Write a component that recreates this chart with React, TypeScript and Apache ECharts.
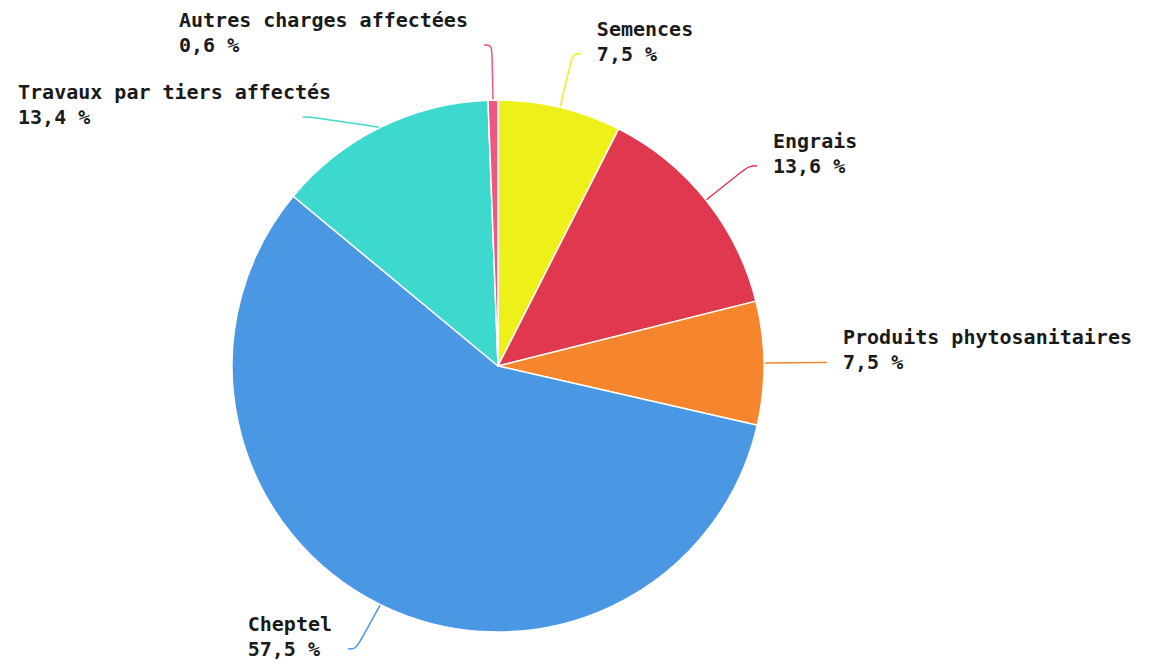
import React, { useEffect, useRef } from "react";
import * as echarts from "echarts";

const categories = [
  "Semences",
  "Engrais",
  "Produits phytosanitaires",
  "Cheptel",
  "Travaux par tiers affectés",
  "Autres charges affectées",
];
const values = [7.5, 13.6, 7.5, 57.5, 13.4, 0.6];
const colors = ["#EEF01A", "#E0394F", "#F5862E", "#4A97E3", "#3ED9CE", "#EF5680"];

const fmt = (v: number) => v.toFixed(1).replace(".", ",") + " %";

export default function App() {
  const ref = useRef<HTMLDivElement>(null);
  useEffect(() => {
    const chart = echarts.init(ref.current!, null, { renderer: "svg" });
    chart.setOption({
      animation: false,
      series: [
        {
          type: "pie",
          center: [490, 358],
          radius: 266,
          startAngle: 90,
          clockwise: true,
          data: categories.map((name, i) => ({
            name,
            value: values[i],
            itemStyle: { color: colors[i] },
            label: i === 4 ? { minMargin: 52 } : undefined,
          })),
          itemStyle: { borderColor: "#ffffff", borderWidth: 1.5 },
          label: {
            show: true,
            position: "outside",
            overflow: "none",
            distanceToLabelLine: 16,
            padding: [0, 0, 25, 0],
            formatter: (p: any) => `{n|${p.name}}\n{n|${fmt(p.value)}}`,
            rich: {
              n: {
                fontFamily: "DejaVu Sans Mono",
                fontWeight: "bold",
                fontSize: 20,
                lineHeight: 25,
                color: "#1a1a1a",
                align: "left",
              },
            },
          },
          labelLine: {
            show: true,
            length: 55,
            length2: 8,
            smooth: 0.4,
            lineStyle: { width: 1.5 },
          },
        },
      ],
    });
    return () => chart.dispose();
  }, []);
  return <div ref={ref} style={{ width: 1133, height: 652 }} />;
}
